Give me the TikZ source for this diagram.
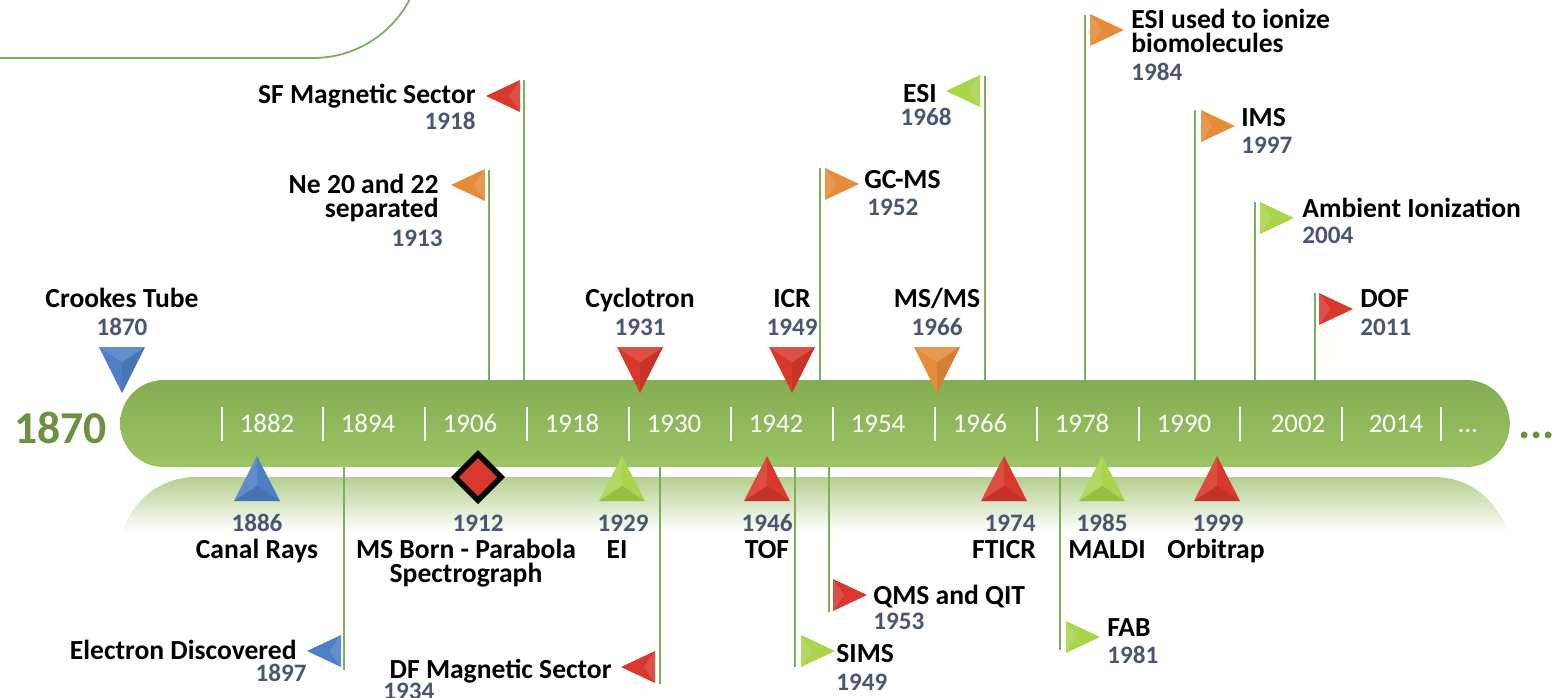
\documentclass[tikz,border=0pt]{standalone}
\usepackage{fontspec}
\setmainfont{Carlito}
\usetikzlibrary{calc}
\definecolor{mred}{HTML}{D9382C}
\definecolor{mblue}{HTML}{4E7FC6}
\definecolor{mlime}{HTML}{A9D44C}
\definecolor{morange}{HTML}{E58B3A}
\definecolor{yearcol}{HTML}{4A5570}
\definecolor{linegreen}{HTML}{7BAE5A}
\definecolor{bartop}{HTML}{84AC52}
\definecolor{barbot}{HTML}{9CC565}
\definecolor{biggreen}{HTML}{6C9140}
\definecolor{reflgreen}{HTML}{B4CF8E}
\newcommand\labfont{\bfseries\fontsize{15.7}{17}\selectfont}
\newcommand\yrfont{\bfseries\fontsize{14.3}{16}\selectfont}
\newcommand\baryrfont{\fontsize{15.3}{17}\selectfont}
\tikzset{
  lab/.style={font=\labfont, text=black, inner sep=0pt},
  yr/.style={font=\yrfont, text=yearcol, inner sep=0pt},
  baryr/.style={font=\baryrfont, text=white, inner sep=0pt, anchor=base},
  flagline/.style={draw=linegreen, line width=0.9pt},
  sepline/.style={draw=white, line width=1.2pt},
  downtri/.pic={
    \fill[pic actions] (-23,-23) -- (23,-23) -- (0,23) -- cycle;
    \fill[white,opacity=0.12] (-23,-23) -- (23,-23) -- (0,-7.7) -- cycle;
    \fill[black,opacity=0.08] (23,-23) -- (0,23) -- (0,-7.7) -- cycle;
  },
  uptri/.pic={
    \fill[pic actions] (-23,23) -- (23,23) -- (0,-22) -- cycle;
    \fill[black,opacity=0.10] (-23,23) -- (23,23) -- (0,7.7) -- cycle;
    \fill[white,opacity=0.10] (-23,23) -- (0,-22) -- (0,7.7) -- cycle;
  },
  lefttri/.pic={
    \fill[pic actions] (17,-16) -- (17,16) -- (-17,0) -- cycle;
    \fill[white,opacity=0.12] (17,-16) -- (17,16) -- (5.7,0) -- cycle;
  },
  righttri/.pic={
    \fill[pic actions] (-17,-16) -- (-17,16) -- (17,0) -- cycle;
    \fill[white,opacity=0.12] (-17,-16) -- (-17,16) -- (-5.7,0) -- cycle;
  },
}
\begin{document}
\begin{tikzpicture}[x=0.02cm,y=-0.02cm]
\useasboundingbox (0,0) rectangle (1559,697);

% top-left frame
\draw[linegreen, line width=1pt, rounded corners=62] (-20,58) -- (422,58) -- (422,-80);

% reflection
\shade[top color=reflgreen, bottom color=white]
  (120,532) [rounded corners=43] -- (120,477) -- (1510,477) [sharp corners] -- (1510,532) -- cycle;

% main bar
\node[minimum width=27.8cm, minimum height=1.74cm, rounded corners=0.87cm,
      top color=bartop, bottom color=barbot, inner sep=0pt] (bar) at (815,423.5) {};

% big 1870 and trailing dots
\node[font=\bfseries\fontsize{26}{28}\selectfont, text=biggreen, inner sep=0pt, anchor=base east] (start) at (107,443) {1870};
\node[font=\bfseries\fontsize{26}{28}\selectfont, text=biggreen, inner sep=0pt, anchor=base west] (more) at (1518,438) {...};

% separators in bar
\foreach \x in {222,323,425,527,629,731,833,935,1037,1139,1240,1342,1441}
  \draw[sepline] (\x,407) -- (\x,441);

% years in bar
\node[baryr] (y1882) at (267,432) {1882};
\node[baryr] (y1894) at (368,432) {1894};
\node[baryr] (y1906) at (470,432) {1906};
\node[baryr] (y1918) at (572,432) {1918};
\node[baryr] (y1930) at (674,432) {1930};
\node[baryr] (y1942) at (776,432) {1942};
\node[baryr] (y1954) at (878,432) {1954};
\node[baryr] (y1966) at (980,432) {1966};
\node[baryr] (y1978) at (1082,432) {1978};
\node[baryr] (y1990) at (1184,432) {1990};
\node[baryr] (y2002) at (1298,432) {2002};
\node[baryr] (y2014) at (1396,432) {2014};
\node[baryr] (ydots) at (1468,432) {…};

% ---------- markers on top of the bar ----------
\pic[fill=mblue] at (122,370) {downtri};
\pic[fill=mred] at (640,370) {downtri};
\pic[fill=mred] at (792,370) {downtri};
\pic[fill=morange] at (937,370) {downtri};

\node[lab, anchor=base] (crookes) at (122,307) {Crookes Tube};
\node[yr, anchor=base] (crookesY) at (122,335) {1870};
\node[lab, anchor=base] (cyclo) at (640,307) {Cyclotron};
\node[yr, anchor=base] (cycloY) at (640,335) {1931};
\node[lab, anchor=base] (icr) at (792,307) {ICR};
\node[yr, anchor=base] (icrY) at (792,335) {1949};
\node[lab, anchor=base] (msms) at (937,307) {MS/MS};
\node[yr, anchor=base] (msmsY) at (937,335) {1966};

% ---------- markers below the bar ----------
\pic[fill=mblue] at (257,478) {uptri};
\pic[fill=mlime] at (622,478) {uptri};
\pic[fill=mred] at (767,478) {uptri};
\pic[fill=mred] at (1004,478) {uptri};
\pic[fill=mlime] at (1102,478) {uptri};
\pic[fill=mred] at (1217,478) {uptri};
% diamond 1912
\fill[black] (478,450) -- (505,477) -- (478,504) -- (451,477) -- cycle;
\fill[mred] (478,458) -- (497,477) -- (478,496) -- (459,477) -- cycle;

\node[yr, anchor=base] (canalY) at (257,531) {1886};
\node[lab, anchor=base] (canal) at (257,558) {Canal Rays};
\node[yr, anchor=base] (bornY) at (478,531) {1912};
\node[lab, anchor=base] (born) at (466,558) {MS Born - Parabola};
\node[lab, anchor=base] (born2) at (466,582) {Spectrograph};
\node[yr, anchor=base] (eiY) at (623,531) {1929};
\node[lab, anchor=base] (ei) at (617,558) {EI};
\node[yr, anchor=base] (tofY) at (767,531) {1946};
\node[lab, anchor=base] (tof) at (767,558) {TOF};
\node[yr, anchor=base] (fticrY) at (1010,531) {1974};
\node[lab, anchor=base] (fticr) at (1004,558) {FTICR};
\node[yr, anchor=base] (maldiY) at (1102,531) {1985};
\node[lab, anchor=base] (maldi) at (1107,558) {MALDI};
\node[yr, anchor=base] (orbiY) at (1218,531) {1999};
\node[lab, anchor=base] (orbi) at (1216,558) {Orbitrap};

% ---------- flags above the bar ----------
\coordinate (sfT) at (524,80);
\coordinate (neT) at (489,170);
\coordinate (gcT) at (820,168);
\coordinate (esiT) at (985,76);
\coordinate (bioT) at (1085,15);
\coordinate (imsT) at (1195,110);
\coordinate (ambT) at (1255,202);
\coordinate (dofT) at (1315,293);
\foreach \c in {sfT,neT,gcT,esiT,bioT,imsT,ambT,dofT}
  \draw[flagline] (\c) -- (\c |- bar.north);

\pic[fill=mred] at (503,96) {lefttri};
\node[lab, anchor=base east] (sf) at (476,103) {SF Magnetic Sector};
\node[yr, anchor=base east] (sfY) at (476,129) {1918};

\pic[fill=morange] at (468,185) {lefttri};
\node[lab, anchor=base east] (ne) at (439,193) {Ne 20 and 22};
\node[lab, anchor=base east] (ne2) at (439,217) {separated};
\node[yr, anchor=base east] (neY) at (443,246) {1913};

\pic[fill=morange] at (842,184) {righttri};
\node[lab, anchor=base west] (gc) at (864,188) {GC-MS};
\node[yr, anchor=base west] (gcY) at (867,215) {1952};

\pic[fill=mlime] at (963,91) {lefttri};
\node[lab, anchor=base] (esi) at (920,102) {ESI};
\node[yr, anchor=base] (esiY) at (926,125) {1968};

\pic[fill=morange] at (1107,30) {righttri};
\node[lab, anchor=base west] (bio) at (1131,28) {ESI used to ionize};
\node[lab, anchor=base west] (bio2) at (1131,52) {biomolecules};
\node[yr, anchor=base west] (bioY) at (1131,80) {1984};

\pic[fill=morange] at (1218,126) {righttri};
\node[lab, anchor=base west] (ims) at (1241,126) {IMS};
\node[yr, anchor=base west] (imsY) at (1241,153) {1997};

\pic[fill=mlime] at (1277,218) {righttri};
\node[lab, anchor=base west] (amb) at (1302,217) {Ambient Ionization};
\node[yr, anchor=base west] (ambY) at (1302,243) {2004};

\pic[fill=mred] at (1336,309) {righttri};
\node[lab, anchor=base west] (dof) at (1360,307) {DOF};
\node[yr, anchor=base west] (dofY) at (1360,335) {2011};

% ---------- flags below the bar ----------
\coordinate (elB) at (344,670);
\coordinate (dfB) at (660,684);
\coordinate (simsB) at (795,667);
\coordinate (qmsB) at (829,612);
\coordinate (fabB) at (1060,650);
\foreach \c in {elB,dfB,simsB,qmsB,fabB}
  \draw[flagline] (\c |- bar.south) -- (\c);

\pic[fill=mblue] at (324,651) {lefttri};
\node[lab, anchor=base east] (el) at (297,659) {Electron Discovered};
\node[yr, anchor=base east] (elY) at (307,681) {1897};

\pic[fill=mred] at (638,667) {lefttri};
\node[lab, anchor=base east] (df) at (612,678) {DF Magnetic Sector};
\node[yr, anchor=base west] (dfY) at (383,699) {1934};

\pic[fill=mlime] at (818,651) {righttri};
\node[lab, anchor=base west] (sims) at (836,662) {SIMS};
\node[yr, anchor=base west] (simsY) at (836,690) {1949};

\pic[fill=mred] at (850,595) {righttri};
\node[lab, anchor=base west] (qms) at (873,604) {QMS and QIT};
\node[yr, anchor=base west] (qmsY) at (873,629) {1953};

\pic[fill=mlime] at (1083,637) {righttri};
\node[lab, anchor=base west] (fab) at (1107,636) {FAB};
\node[yr, anchor=base west] (fabY) at (1107,663) {1981};
\end{tikzpicture}
\end{document}
